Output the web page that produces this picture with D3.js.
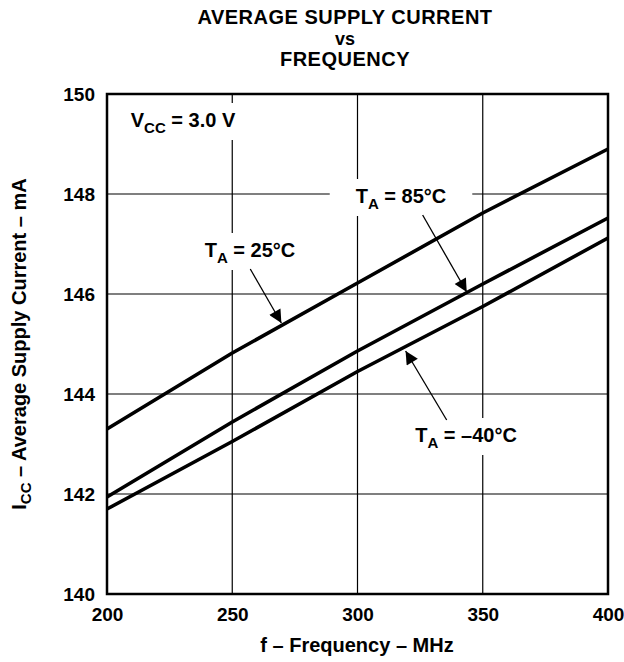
<!DOCTYPE html>
<html>
<head>
<meta charset="utf-8">
<script src="https://cdn.jsdelivr.net/npm/d3@7"></script>
<style>
  body { margin: 0; background: #fff; }
  text { font-family: Arial, "Liberation Sans", Helvetica, sans-serif; font-weight: bold; fill: #000; }
</style>
</head>
<body>
<div id="chart"></div>
<script>
// frequency (MHz) and supply current (mA) per temperature
var freqs = [200, 250, 300, 350, 400]
var icc25 = [143.3, 144.82, 146.22, 147.62, 148.9]
var icc85 = [141.94, 143.44, 144.86, 146.2, 147.52]
var iccM40 = [141.7, 143.05, 144.45, 145.75, 147.12]
var xTicks = [200, 250, 300, 350, 400]
var yTicks = [140, 142, 144, 146, 148, 150]

var series = [icc25, icc85, iccM40]

var dimensions = {
    width: 624,
    height: 662,
    margin: { top: 94, bottom: 68, left: 107, right: 16 }
}

var svg = d3.select("#chart")
    .append("svg")
    .attr("width", dimensions.width)
    .attr("height", dimensions.height)

var x = d3.scaleLinear()
    .domain([200, 400])
    .range([dimensions.margin.left, dimensions.width - dimensions.margin.right])

var y = d3.scaleLinear()
    .domain([140, 150])
    .range([dimensions.height - dimensions.margin.bottom, dimensions.margin.top])

// title
var title = svg.append("g").attr("text-anchor", "middle")
title.append("text").attr("x", 345).attr("y", 24).attr("font-size", 20).attr("letter-spacing", 0.5).text("AVERAGE SUPPLY CURRENT")
title.append("text").attr("x", 345).attr("y", 45).attr("font-size", 18).text("vs")
title.append("text").attr("x", 345).attr("y", 66).attr("font-size", 20).attr("letter-spacing", 0.5).text("FREQUENCY")

// grid
var grid = svg.append("g").attr("stroke", "#000").attr("stroke-width", 1.2)
grid.selectAll(".vg")
    .data(xTicks.slice(1, -1))
    .enter().append("line")
    .attr("x1", d => x(d)).attr("x2", d => x(d))
    .attr("y1", y(140)).attr("y2", y(150))
grid.selectAll(".hg")
    .data(yTicks.slice(1, -1))
    .enter().append("line")
    .attr("x1", x(200)).attr("x2", x(400))
    .attr("y1", d => y(d)).attr("y2", d => y(d))

// axes (labels only, frame drawn separately)
var xAxis = svg.append("g")
    .attr("transform", "translate(0," + y(140) + ")")
    .call(d3.axisBottom(x).tickValues(xTicks).tickSize(0).tickPadding(14))
xAxis.select(".domain").remove()
xAxis.selectAll("text").attr("font-size", 19).attr("font-family", null)

var yAxis = svg.append("g")
    .attr("transform", "translate(" + x(200) + ",0)")
    .call(d3.axisLeft(y).tickValues(yTicks).tickSize(0).tickPadding(12))
yAxis.select(".domain").remove()
yAxis.selectAll("text").attr("font-size", 19).attr("font-family", null)

// axis titles
svg.append("text")
    .attr("x", 357).attr("y", 652)
    .attr("text-anchor", "middle").attr("font-size", 20)
    .text("f – Frequency – MHz")

var yt = svg.append("text")
    .attr("transform", "translate(26," + y(145) + ") rotate(-90)")
    .attr("text-anchor", "middle").attr("font-size", 20)
yt.append("tspan").text("I")
yt.append("tspan").attr("font-size", 15).attr("dy", 5).text("CC")
yt.append("tspan").attr("dy", -5).text(" – Average Supply Current – mA")

// curves
var line = d3.line()
    .x((d, i) => x(freqs[i]))
    .y(d => y(d))

svg.append("g").selectAll("path")
    .data(series)
    .enter().append("path")
    .attr("d", line)
    .attr("fill", "none")
    .attr("stroke", "#000")
    .attr("stroke-width", 3.6)
    .attr("stroke-linejoin", "round")

// frame
svg.append("rect")
    .attr("x", x(200)).attr("y", y(150))
    .attr("width", x(400) - x(200)).attr("height", y(140) - y(150))
    .attr("fill", "none").attr("stroke", "#000").attr("stroke-width", 2.5)

// labels with white boxes
function label(cx, by, main, sub, rest, padX) {
    var g = svg.append("g")
    var t = g.append("text")
        .attr("x", cx).attr("y", by)
        .attr("text-anchor", "middle").attr("font-size", 20)
    t.append("tspan").text(main)
    t.append("tspan").attr("font-size", 15).attr("dy", 6).text(sub)
    t.append("tspan").attr("dy", -6).text(rest)
    var bb = t.node().getBBox()
    g.insert("rect", "text")
        .attr("x", bb.x - padX).attr("y", by - 24)
        .attr("width", bb.width + 2 * padX).attr("height", 37)
        .attr("fill", "#fff")
}

label(183, 127, "V", "CC", " = 3.0 V", 10)
label(250, 257, "T", "A", " = 25°C", 10)
label(401, 203, "T", "A", " = 85°C", 26)
label(466, 442, "T", "A", " = –40°C", 10)

// arrows
svg.append("defs").append("marker")
    .attr("id", "head")
    .attr("viewBox", "0 0 10 10")
    .attr("refX", 10).attr("refY", 5)
    .attr("markerWidth", 15).attr("markerHeight", 13)
    .attr("markerUnits", "userSpaceOnUse")
    .attr("orient", "auto")
    .append("path").attr("d", "M0,0 L10,5 L0,10 Z").attr("fill", "#000")

var arrows = [
    [257.2, 146.5, 269.6, 145.42],
    [326, 147.58, 343.6, 146.04],
    [335.6, 143.48, 319.2, 144.86]
]
svg.append("g").selectAll("line")
    .data(arrows)
    .enter().append("line")
    .attr("x1", d => x(d[0])).attr("y1", d => y(d[1]))
    .attr("x2", d => x(d[2])).attr("y2", d => y(d[3]))
    .attr("stroke", "#000").attr("stroke-width", 1.3)
    .attr("marker-end", "url(#head)")
</script>
</body>
</html>
